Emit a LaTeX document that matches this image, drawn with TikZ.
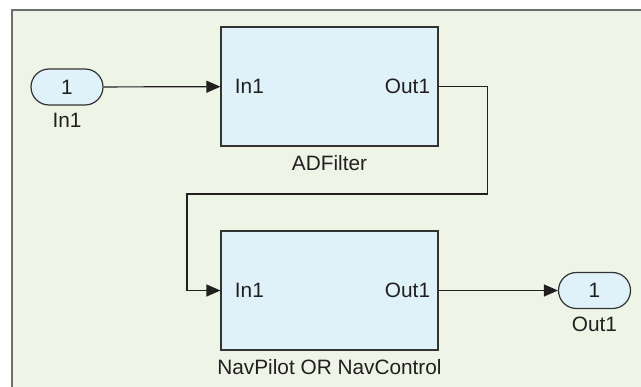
\documentclass[tikz,border=0pt]{standalone}
\usepackage{fontspec}
\setmainfont{Liberation Sans}
\usetikzlibrary{
  shapes.misc,
  positioning,
  calc,
  arrows.meta
}
\definecolor{sheet}{HTML}{EEF4E6}
\definecolor{blockfill}{HTML}{DFF1F9}
\definecolor{edgegray}{HTML}{333333}
\definecolor{framegray}{HTML}{6E6E6E}
\definecolor{inkgray}{HTML}{231F20}

\begin{document}
\begin{tikzpicture}[x=1pt,y=-1pt,
    font=\fontsize{20.8}{24}\selectfont,text=inkgray,
    sub/.style = {draw=edgegray,fill=blockfill,line width=1.2pt,
                  minimum width=217pt,minimum height=119pt,inner sep=0pt},
    port/.style = {rounded rectangle,draw=edgegray,fill=blockfill,line width=1.2pt,
                   minimum width=72pt,minimum height=36pt,inner sep=0pt},
    wire/.style = {line width=1.2pt,draw=inkgray,
                   -{Triangle[length=14pt,width=12pt]}}]
    \useasboundingbox (0,0) rectangle (641,387);
    \clip (0,0) rectangle (641,387);
    \filldraw[fill=sheet,draw=framegray,line width=2pt] (12,10) rectangle (660,410);

    \node[port] (in) at (67,87) {1};
    \node[below = 4pt of in] (inlbl) {In1};

    \node[sub] (adf) at (329.5,86.5) {};
    \node[anchor=west] (adfin) at ([xshift=11pt]adf.west) {In1};
    \node[anchor=east] (adfout) at ([xshift=-5pt]adf.east) {Out1};
    \node[below = 5.5pt of adf] (adflbl) {ADFilter};

    \node[sub] (nav) at (329.5,290.5) {};
    \node[anchor=west] (navin) at ([xshift=11pt]nav.west) {In1};
    \node[anchor=east] (navout) at ([xshift=-5pt]nav.east) {Out1};
    \node[below = 5.5pt of nav] (navlbl) {NavPilot OR NavControl};

    \node[port] (out) at (594.5,290.5) {1};
    \node[below = 4pt of out] (outlbl) {Out1};

    \coordinate (turn) at (187,194);

    \draw[wire] (in) -- (adf);
    \draw[wire] (adf.east) -- ++(49,0) |- (turn) |- (nav.west);
    \draw[wire] (nav) -- (out);
\end{tikzpicture}
\end{document}
